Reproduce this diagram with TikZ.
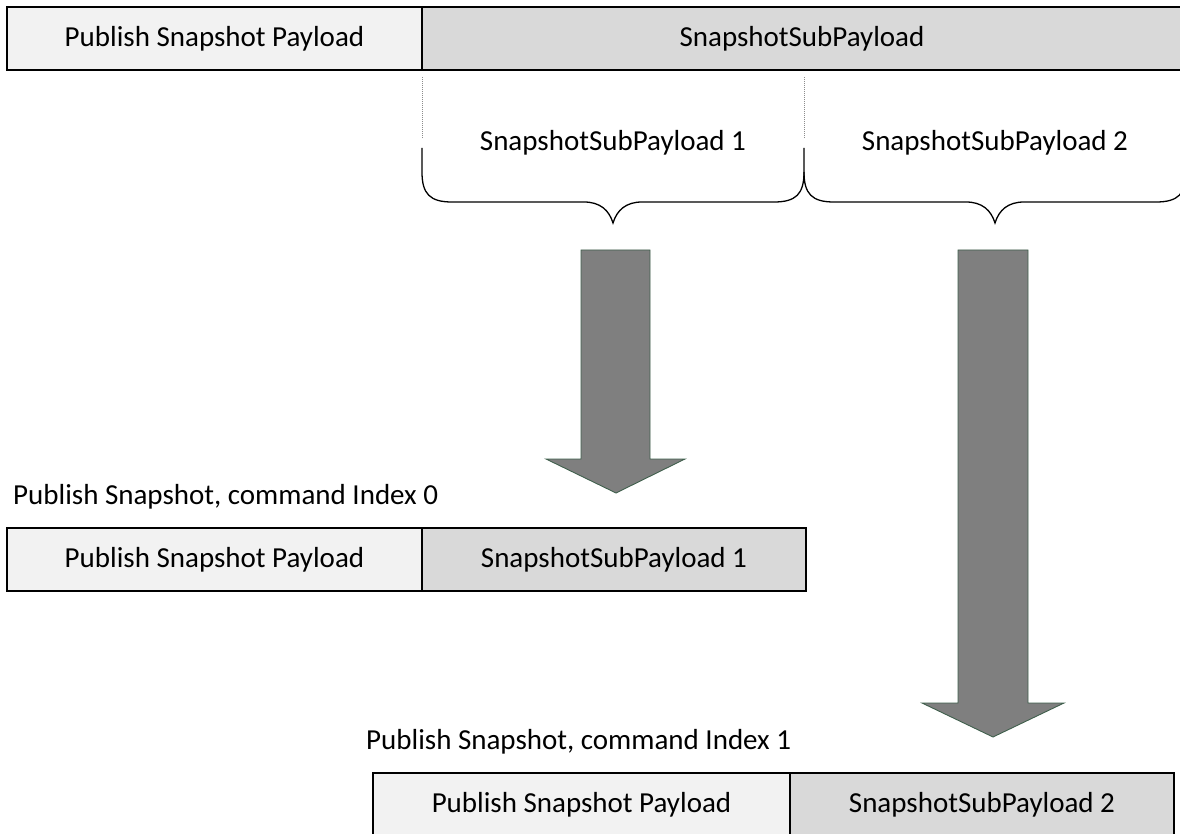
\documentclass[tikz,border=0pt]{standalone}
\usepackage{fontspec}
\setmainfont{Carlito}
\begin{document}
\begin{tikzpicture}[x=1pt,y=-1pt,
  lbl/.style={font=\fontsize{29}{34}\selectfont, inner sep=0pt},
  cell/.style={draw=black, line width=1.3pt, rectangle, inner sep=0pt, minimum height=63pt, font=\fontsize{29}{34}\selectfont},
  lightcell/.style={cell, fill=cellA},
  darkcell/.style={cell, fill=cellB},
  blockarrow/.style={fill=arrowfill, draw=arrowline, line width=0.9pt, line join=miter},
  bracepath/.style={draw=black, line width=1.3pt},
  guide/.style={draw=guidegray, line width=1pt, densely dotted}]
\definecolor{cellA}{HTML}{F2F2F2}
\definecolor{cellB}{HTML}{D9D9D9}
\definecolor{arrowfill}{HTML}{7F7F7F}
\definecolor{arrowline}{HTML}{3F5F4C}
\definecolor{guidegray}{HTML}{8C8C8C}
\useasboundingbox (0,0) rectangle (1180,834);
\clip (0,0) rectangle (1180,834);

% top bar
\node[lightcell, minimum width=415pt] (topA) at (214.5,38.5) {Publish Snapshot Payload};
\node[darkcell, minimum width=760pt] (topB) at (802,38.5) {SnapshotSubPayload};

% dotted guides
\coordinate (g1a) at (422,77);  \coordinate (g1b) at (422,138);
\coordinate (g2a) at (804,77);  \coordinate (g2b) at (804,138);
\draw[guide] (g1a) -- (g1b);
\draw[guide] (g2a) -- (g2b);

% brace labels
\node[lbl] (sub1) at (613,143) {SnapshotSubPayload 1};
\node[lbl] (sub2) at (995,143) {SnapshotSubPayload 2};

% braces
\draw[bracepath] (422,148) -- (422,172)
  .. controls (422,194) and (430,202) .. (452,202) -- (584,202)
  .. controls (600,202) and (609,210) .. (613,223)
  .. controls (617,210) and (626,202) .. (642,202) -- (774,202)
  .. controls (796,202) and (804,194) .. (804,172) -- (804,148);
\draw[bracepath] (804,172)
  .. controls (804,194) and (812,202) .. (834,202) -- (966,202)
  .. controls (982,202) and (991,210) .. (995,223)
  .. controls (999,210) and (1008,202) .. (1024,202) -- (1156,202)
  .. controls (1178,202) and (1186,194) .. (1186,172);

% block arrows
\draw[blockarrow] (581,250) -- (650,250) -- (650,459) -- (685,459) -- (616,493) -- (546,459) -- (581,459) -- cycle;
\draw[blockarrow] (958,250) -- (1028,250) -- (1028,703) -- (1064,703) -- (993,737) -- (922,703) -- (958,703) -- cycle;

% row 2
\node[lbl, anchor=west] (cap0) at (13,497) {Publish Snapshot, command Index 0};
\node[lightcell, minimum width=415pt] (r2A) at (214.5,559.5) {Publish Snapshot Payload};
\node[darkcell, minimum width=384pt] (r2B) at (614,559.5) {SnapshotSubPayload 1};

% row 3
\node[lbl, anchor=west] (cap1) at (366,742) {Publish Snapshot, command Index 1};
\node[lightcell, minimum width=417pt] (r3A) at (581.5,804.5) {Publish Snapshot Payload};
\node[darkcell, minimum width=384pt] (r3B) at (982,804.5) {SnapshotSubPayload 2};
\end{tikzpicture}
\end{document}
